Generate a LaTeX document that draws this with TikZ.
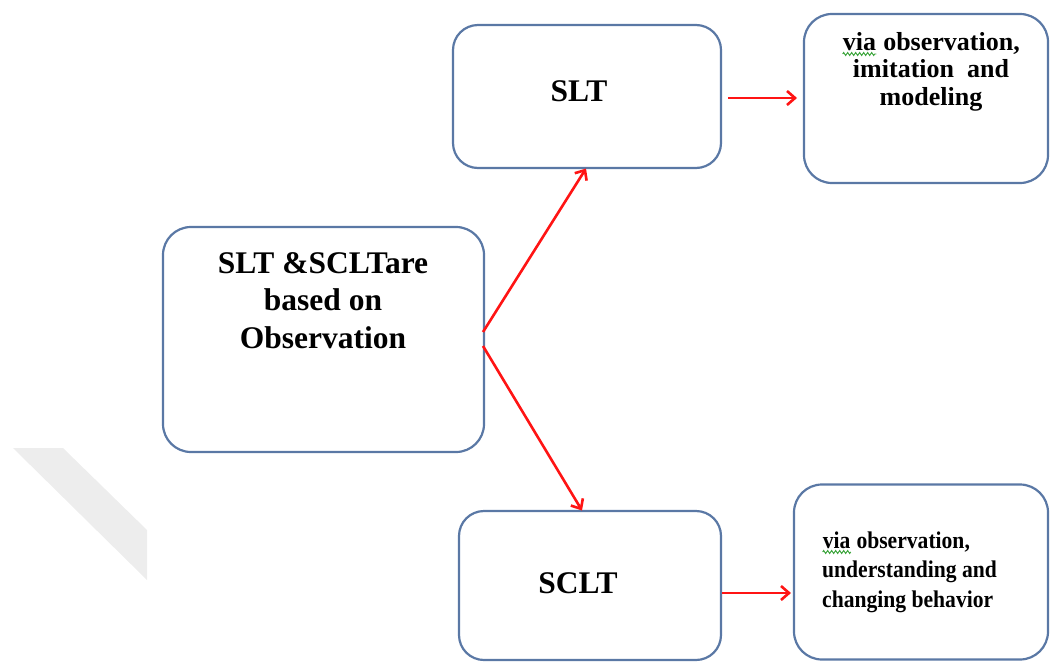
\documentclass[tikz,border=0pt]{standalone}
\usepackage{fontspec}
\setmainfont{Liberation Serif}
\newfontfamily\condfont{Liberation Serif}[FakeStretch=0.9]
\usetikzlibrary{arrows.meta,decorations.pathmorphing}
\definecolor{boxcol}{RGB}{90,120,165}
\definecolor{arrcol}{RGB}{255,20,20}
\definecolor{squig}{RGB}{50,160,50}
\definecolor{wm}{RGB}{237,237,237}
\newcommand\greenwave[1]{\tikz[baseline=0pt]{\node[inner sep=0pt,anchor=base] (gw) at (0,0) {#1};\draw[squig, line width=0.9pt, decorate, decoration={zigzag, segment length=4pt, amplitude=1.5pt}] ([yshift=-4pt]gw.base west) -- ([yshift=-4pt]gw.base east);}}
\tikzset{
  box/.style={draw=boxcol, line width=2.2pt, rounded corners=28pt, inner sep=0pt},
  conn/.style={draw=arrcol, line width=2.6pt, -{Straight Barb[length=8pt,width=14pt,line width=2.6pt]}},
  bigtxt/.style={font=\fontsize{31.5}{37.5}\selectfont\bfseries, align=center, inner sep=0pt},
}
\begin{document}
\begin{tikzpicture}[x=1pt,y=-1pt]
\useasboundingbox (0,0) rectangle (1050,662);
\fill[wm] (13,448) -- (63,448) -- (147,530) -- (147,580) -- cycle;

\node[box, minimum width=321pt, minimum height=225pt] (main) at (323.5,339.5) {};
\node[box, minimum width=268pt, minimum height=143pt, rounded corners=25pt] (slt) at (587,96.5) {};
\node[box, minimum width=262pt, minimum height=149pt, rounded corners=25pt] (sclt) at (590,585.5) {};
\node[box, minimum width=244pt, minimum height=169pt] (tr) at (926,98.5) {};
\node[box, minimum width=254pt, minimum height=175pt] (br) at (921,572) {};

\node[bigtxt, anchor=base] (maintxt) at (323,348) {SLT \&SCLTare\\based on\\Observation};
\node[bigtxt, anchor=base] (slttxt) at (579,101) {SLT};
\node[bigtxt, anchor=base] (sclttxt) at (578,593) {SCLT};
\node[font=\fontsize{26}{27.5}\selectfont\bfseries, align=center, inner sep=0pt, anchor=base] (trtxt) at (931,105) {\greenwave{via} observation,\\imitation \ and\\modeling};
\node[font=\fontsize{24}{29.5}\selectfont\condfont\bfseries, align=left, inner sep=0pt, anchor=base west] (brtxt) at (822,607) {\greenwave{via} observation,\\understanding and\\changing behavior};

\coordinate (m1) at (483,332);
\coordinate (m2) at (483,346);
\coordinate (a1) at (728,98);
\coordinate (a2) at (797,98);
\coordinate (b1) at (722,593);
\coordinate (b2) at (791,593);
\draw[conn] (m1) -- (586,168.5);
\draw[conn] (m2) -- (582,510.5);
\draw[conn] (a1) -- (a2);
\draw[conn] (b1) -- (b2);
\end{tikzpicture}
\end{document}
